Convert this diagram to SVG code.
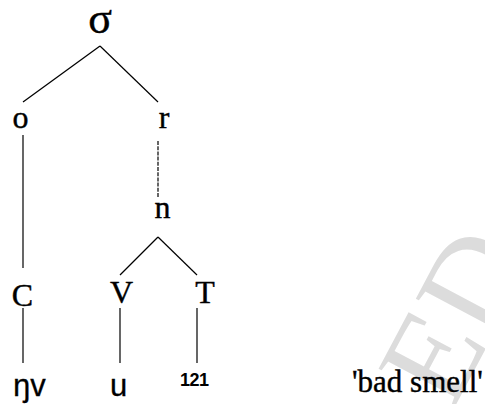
<svg xmlns="http://www.w3.org/2000/svg" width="485" height="404" viewBox="0 0 485 404">
  <style>
    .serif { font-family: "Liberation Serif", "Times New Roman", serif; font-size: 32px; fill: #000; stroke: #000; stroke-width: 0.4; }
    .sans { font-family: "Liberation Sans", Arial, sans-serif; font-size: 31px; fill: #000; stroke: #000; stroke-width: 0.3; }
    .small { font-family: "Liberation Sans", Arial, sans-serif; font-size: 18px; font-weight: bold; fill: #000; letter-spacing: -0.5px; }
    .edge { stroke: #000; stroke-width: 1.2; fill: none; }
    .broken { stroke-dasharray: 4 1.2; }
    .mark { font-family: "Liberation Serif", "Times New Roman", serif; font-size: 130px; fill: #dcdcdc; }
  </style>
  <rect width="485" height="404" fill="#fff"/>

  <!-- faint background stamp -->
  <text class="mark" transform="translate(452,412) rotate(-62)">ED</text>

  <!-- connectors -->
  <g id="edges">
    <line class="edge" x1="100" y1="46" x2="23" y2="102"/>
    <line class="edge" x1="100" y1="46" x2="158" y2="102"/>
    <line class="edge" x1="23" y1="135" x2="23" y2="268"/>
    <line class="edge broken" x1="158" y1="141" x2="158" y2="197"/>
    <line class="edge" x1="158" y1="237" x2="120" y2="275"/>
    <line class="edge" x1="158" y1="237" x2="197" y2="275"/>
    <line class="edge" x1="23" y1="308" x2="23" y2="363"/>
    <line class="edge" x1="120" y1="308" x2="120" y2="363"/>
    <line class="edge" x1="197" y1="308" x2="197" y2="363"/>
  </g>

  <!-- nodes -->
  <g id="node-sigma"><text class="serif" x="100" y="33" text-anchor="middle" style="font-size:44px">σ</text></g>
  <g id="node-o"><text class="serif" x="20.5" y="128" text-anchor="middle">o</text></g>
  <g id="node-r"><text class="serif" x="164" y="128" text-anchor="middle">r</text></g>
  <g id="node-n"><text class="serif" x="162.5" y="218" text-anchor="middle">n</text></g>
  <g id="node-C"><text class="serif" x="22.5" y="306" text-anchor="middle">C</text></g>
  <g id="node-V"><text class="serif" x="121.5" y="303" text-anchor="middle">V</text></g>
  <g id="node-T"><text class="serif" x="205" y="303" text-anchor="middle">T</text></g>
  <g id="node-nv"><text class="sans" x="13" y="396">ŋv</text></g>
  <g id="node-u"><text class="sans" x="110" y="396">u</text></g>
  <g id="node-121"><text class="small" x="180" y="386">121</text></g>
  <g id="gloss"><text class="serif" x="352" y="392" style="font-size:31px">'bad smell'</text></g>
</svg>
